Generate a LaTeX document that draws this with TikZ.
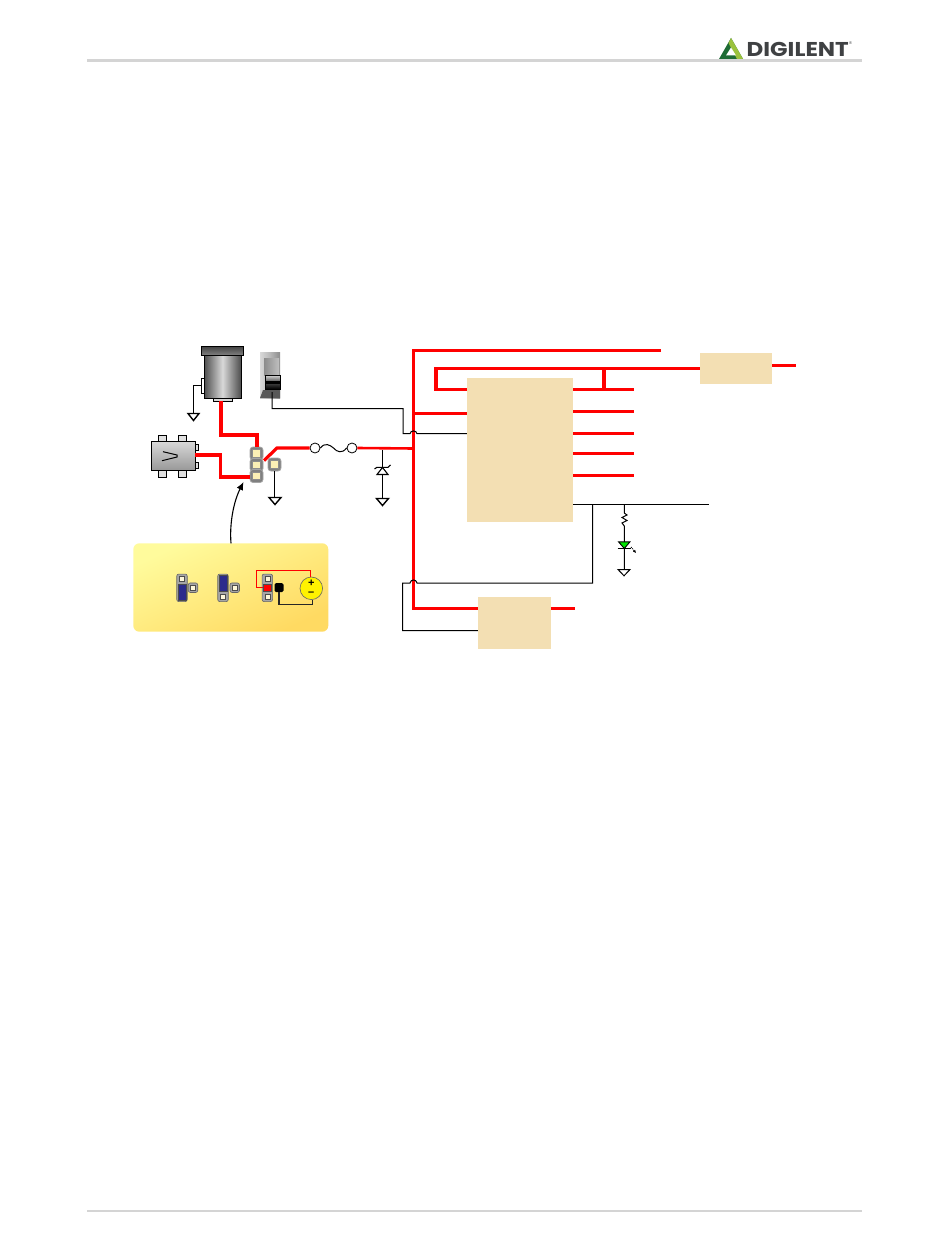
\documentclass[tikz,border=0pt]{standalone}
\usepackage{fontspec}
\setmainfont{Liberation Sans}
\newfontfamily\logofont{Poppins}
\usetikzlibrary{arrows.meta}
\definecolor{boxtan}{HTML}{F3DFB3}
\definecolor{wirered}{HTML}{FF0000}
\definecolor{pincream}{HTML}{FBEFB5}
\definecolor{insetlight}{HTML}{FFFB9C}
\definecolor{insetdark}{HTML}{FFDA62}
\definecolor{logodark}{HTML}{1E6B34}
\definecolor{logolime}{HTML}{9BC23C}
\definecolor{logotext}{HTML}{3F4143}
\definecolor{jumpblue}{HTML}{2B2B8C}
\tikzset{
  power/.style={draw=wirered,line width=3.2pt,line join=miter},
  signal/.style={draw=black,line width=1pt},
  block/.style={fill=boxtan,draw=none,inner sep=0pt},
  pinframe/.style={fill=black!50,draw=black!35,line width=.8pt,rounded corners=3pt,inner sep=0pt},
  pinpad/.style={fill=pincream,draw=black!45,line width=.6pt,inner sep=0pt,minimum size=7.5pt},
  gndsym/.style={fill=white,draw=black,line width=1.4pt,line join=miter},
  hdr/.style={draw=black!17,line width=2.5pt},
}
\begin{document}
\begin{tikzpicture}[x=1pt,y=-1pt]
\useasboundingbox (0,0) rectangle (950,1241);
% page rules and logo
\coordinate (hl) at (87,60.5); \coordinate (hr) at (862,60.5);
\coordinate (fl) at (87,1211); \coordinate (fr) at (862,1211);
\draw[hdr] (hl) -- (hr);
\draw[hdr] (fl) -- (fr);
\fill[logodark] (731,38) -- (743,59) -- (719,59) -- cycle;
\fill[logolime] (731,38) -- (743,59) -- (737,59) -- (728.5,43) -- cycle;
\fill[white] (731,47.5) -- (736,55.5) -- (726,55.5) -- cycle;
\node[anchor=west,inner sep=0pt,text=logotext] (logo) at (746.5,49.5) {\scalebox{1.15}[1]{\fontsize{20}{20}\selectfont\logofont\bfseries DIGILENT}};
\node[anchor=west,inner sep=0pt,text=logotext] (logoR) at (849,43) {\fontsize{4}{4}\selectfont ®};
% blocks
\node[block,minimum width=106pt,minimum height=144pt] (chip) at (520,449.7) {};
\node[block,minimum width=72pt,minimum height=31pt] (boxa) at (736,368.5) {};
\node[block,minimum width=73pt,minimum height=52pt] (boxb) at (514.5,622.7) {};
% barrel jack
\shade[left color=black!70,right color=black!70,middle color=black!15,draw=black,line width=.6pt] (204,355) rectangle (241,398);
\shade[top color=black!75,bottom color=black!50,draw=black,line width=.6pt] (201,346) rectangle (243,355);
\draw[fill=black!15,line width=.6pt] (213,398) rectangle (232,401);
\draw[fill=white,line width=.6pt] (201,378) rectangle (204,393);
\coordinate (jackbase) at (221,401);
\coordinate (jacktab) at (201,385.5);
% switch
\shade[left color=black!15,right color=black!45,middle color=black!28] (260,352) rectangle (280,398);
\fill[black!65] (260,398) -- (280,398) -- (280,390) -- (263,390) -- cycle;
\shade[left color=black!45,right color=black!25] (264,358) rectangle (279,375);
\shade[top color=black!15,bottom color=black,middle color=black!70,draw=black,line width=.8pt] (265,375) rectangle (280,389);
\fill[black] (265,381) rectangle (280,384);
\coordinate (swout) at (272,392);
% USB connector
\foreach \tx in {158,178}{
  \draw[fill=black!12,line width=.5pt] (\tx,435) rectangle (\tx+8,441);
  \draw[fill=black!12,line width=.5pt] (\tx,470) rectangle (\tx+8,477);
}
\foreach \ty in {444,462}{\draw[fill=black!12,line width=.5pt] (195,\ty) rectangle (198,\ty+6);}
\shade[top color=black!15,bottom color=black!40,draw=black,line width=.6pt] (151,441) rectangle (195,470);
\draw[line width=1pt,line join=miter] (163,451.7) -- (177,455) -- (177,457) -- (162,460.7);
\coordinate (usbout) at (195,455);
% header pins
\node[pinframe,minimum width=13pt,minimum height=13pt] (f1) at (256.5,453.5) {};
\node[pinframe,minimum width=13pt,minimum height=13pt] (f2) at (256.5,465) {};
\node[pinframe,minimum width=13pt,minimum height=13pt] (f3) at (256.5,476) {};
\node[pinpad] (p1) at (f1) {};
\node[pinpad] (p2) at (f2) {};
\node[pinpad] (p3) at (f3) {};
\node[pinframe,minimum width=13pt,minimum height=13pt] (p4frame) at (274.5,464.5) {};
\node[pinpad] (p4) at (p4frame) {};
% power wiring left
\draw[power] (jackbase) -- (221,435) -- (257,435) -- (257,447);
\draw[power] (usbout) -- (220.5,455) -- (220.5,477) -- (f3.west |- 0,477) ;
\coordinate (swpole) at (264,460.5);
\coordinate (fusebend) at (277,448);
\node[circle,draw=black,fill=white,line width=.8pt,minimum size=10pt,inner sep=0pt] (fusea) at (315,448) {};
\node[circle,draw=black,fill=white,line width=.8pt,minimum size=10pt,inner sep=0pt] (fuseb) at (352,448) {};
\draw[power] (swpole) -- (fusebend) -- (fusea.west);
\draw[signal] (fusea.east) .. controls (325,442) and (330,445) .. (333.5,448) .. controls (337,452) and (342,454) .. (fuseb.west);
\coordinate (bus) at (413.5,448.5);
\draw[signal] (382.5,450) -- (382.5,498);
\draw[power,line width=2.6pt] (fuseb.east) -- (bus);
% main bus
\draw[power] (661,350.7) -- (413.5,350.7) -- (413.5,608.5) -- (boxb.west |- 0,608.5);
\draw[power] (413.5,413.3) -- (chip.west |- 0,413.3);
\draw[power,line width=3.2pt] (boxa.west |- 0,368.3) -- (436,368.3) -- (436,389.3) -- (chip.west |- 0,389.3);
\draw[power] (604,368.3) -- (604,389.3);
\foreach \oy/\oe in {389.3/a,411.3/b,433.7/c,453.3/d,475.3/e}{
  \coordinate (out\oe) at (634,\oy);
  \draw[power] (chip.east |- 0,\oy) -- (out\oe);
}
\coordinate (aout) at (796,365.3);
\draw[power] (boxa.east |- 0,365.3) -- (aout);
\coordinate (bout) at (575,608.3);
\draw[power] (boxb.east |- 0,608.3) -- (bout);
% signal wiring
\draw[signal] (swout) -- (272,408.5) -- (403,408.5) -- (403,433.7) -- (410,433.7) .. controls (410.5,430) and (416.5,430) .. (417,433.7) -- (chip.west |- 0,433.7);
\coordinate (sigend) at (709,504.3);
\draw[signal] (chip.east |- 0,504.3) -- (sigend);
\draw[signal] (592.7,504.3) -- (592.7,583) -- (417,583) .. controls (416.5,579) and (410.5,579) .. (410,583) -- (402.5,583) -- (402.5,630.7) -- (boxb.west |- 0,630.7);
\coordinate (jacktabg) at (193,413);
\draw[signal] (jacktab) -- (193,385.5) -- (jacktabg);
\draw[gndsym] (188,413.5) -- (199,413.5) -- (193.5,420.5) -- cycle;
% pin 4 to ground
\coordinate (p4g) at (274.5,497);
\draw[signal] (p4frame.south) -- (p4g);
\draw[gndsym] (269,497.5) -- (281,497.5) -- (275,504.5) -- cycle;
% zener
\draw[gndsym] (376.5,498.5) -- (388.5,498.5) -- (382.5,505.5) -- cycle;
\draw[fill=white,line width=1.1pt,line join=miter] (382.5,467.5) -- (388,474.5) -- (377,474.5) -- cycle;
\draw[line width=1.1pt] (374.5,469) -- (377,467.3) -- (388,467.3) -- (390.5,465);
% resistor and LED
\coordinate (rtop) at (624.3,504.3);
\coordinate (lg) at (624.3,569);
\draw[line width=1pt] (rtop) -- (624.3,513) -- (627,515) -- (622,517.5) -- (627,520.5) -- (622,523) -- (624.3,526) -- (lg);
\draw[fill=green!90!black,line width=.9pt,line join=miter] (618.5,541.8) -- (630,541.8) -- (624.3,548.5) -- cycle;
\draw[line width=1.1pt] (617.5,548.7) -- (631,548.7);
\draw[line width=.9pt,densely dotted,-{Latex[length=3pt,width=3pt]}] (631,547) -- (636,553);
\draw[fill=white,line width=1pt,line join=miter] (618,569.5) -- (630,569.5) -- (624,575.8) -- cycle;
% inset
\shade[top color=insetlight,bottom color=insetdark,shading angle=25,rounded corners=6pt] (133.3,543.3) rectangle (328.3,631.7);
\coordinate (insettop) at (231,543.3);
\draw[line width=1.1pt,-{Latex[length=8pt,width=7pt]}] (insettop) .. controls (229.5,525) and (233,503) .. (243.5,482);
% inset jumpers
\tikzset{minipad/.style={fill=pincream!50!white,draw=black!70,line width=.5pt,inner sep=0pt,minimum size=5pt},
  miniframe/.style={fill=gray!70,draw=black!60,line width=.6pt,rounded corners=2pt,inner sep=0pt},
  minijump/.style={fill=jumpblue,draw=black!70,line width=.5pt,inner sep=0pt}}
\foreach \nm/\cx in {a/182,b/223,c/267.3}{
  \node[miniframe,minimum width=10.5pt,minimum height=27.5pt] (f\nm) at (\cx,587.8) {};
  \node[minipad] (t\nm) at (\cx,578.7) {};
  \node[minipad] (m\nm) at (\cx,587.8) {};
  \node[minipad] (u\nm) at (\cx,596.8) {};
}
\node[miniframe,minimum size=9.5pt] (sa) at (193,587.7) {}; \node[minipad] at (sa) {};
\node[miniframe,minimum size=9.5pt] (sb) at (234.7,587.7) {}; \node[minipad] at (sb) {};
\node[minijump,minimum width=7.7pt,minimum height=16.5pt] (ja) at (182,592.2) {};
\node[minijump,minimum width=7.7pt,minimum height=16.5pt] (jb) at (223,583.3) {};
\node[fill=wirered,draw=black!70,line width=.5pt,inner sep=0pt,minimum size=7.5pt] (redp) at (267.3,587.8) {};
\node[fill=black,rounded corners=1.5pt,inner sep=0pt,minimum size=9pt] (blkp) at (279,587.5) {};
\node[circle,fill=yellow,draw=black!60,line width=.6pt,inner sep=0pt,minimum size=22.6pt] (batt) at (311.3,588.3) {};
\node[inner sep=0pt,font=\fontsize{11}{11}\selectfont\bfseries] (bplus) at (311.3,583.5) {+};
\node[inner sep=0pt,font=\fontsize{11}{11}\selectfont\bfseries] (bminus) at (311.3,594) {–};
\draw[draw=wirered,line width=1.1pt] (redp.west) -- (256.7,587.8) -- (256.7,570.7) -- (310.7,570.7) -- (batt.north -| 310.7,570.7);
\draw[line width=1.1pt,draw=black!85] (blkp.south) -- (279,604.5) -- (312.3,604.5) -- (batt.south -| 312.3,604.5);
\end{tikzpicture}
\end{document}
